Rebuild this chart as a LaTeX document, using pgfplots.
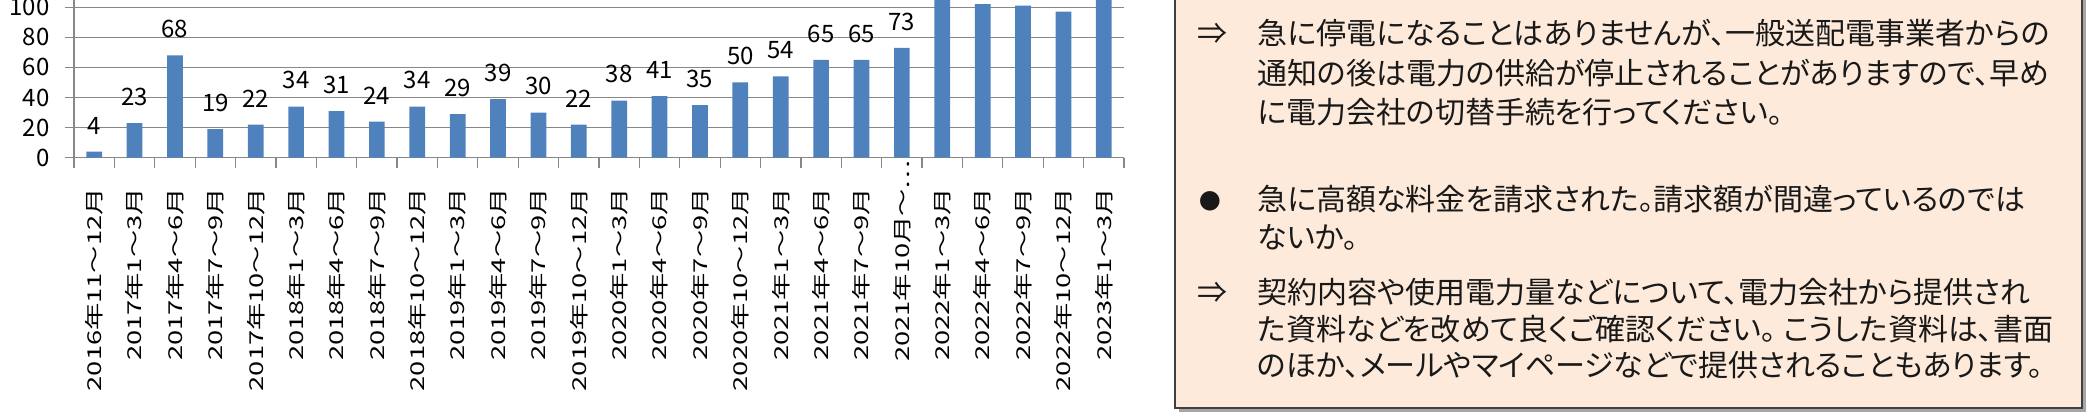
\documentclass[border=0pt]{standalone}
\usepackage{fontspec}
\setmainfont{Noto Sans CJK JP}
\newfontfamily\jp[CharacterWidth=AlternateProportional]{Noto Sans CJK JP}
\usepackage{graphicx}
\usepackage{pgfplots}
\usepackage{pgfplotstable}
\pgfplotsset{compat=1.18}
\definecolor{barblue}{HTML}{4F81BD}
\definecolor{gridgray}{HTML}{878787}
\definecolor{boxfill}{HTML}{FDEADA}
\newcommand\XL[1]{\scalebox{1}[0.7]{#1}}

\pgfplotstableread{
x y
0 4
1 23
2 68
3 19
4 22
5 34
6 31
7 24
8 34
9 29
10 39
11 30
12 22
13 38
14 41
15 35
16 50
17 54
18 65
19 65
20 73
}\labeled
\pgfplotstableread{
x y
21 120
22 102
23 101
24 97
25 118
}\tall

\begin{document}
\begin{tikzpicture}[x=1pt,y=1pt]
\path[use as bounding box] (0,0) rectangle (1044.5,208.5);
\clip (0,0) rectangle (1044.5,208.5);
\begin{axis}[
  at={(37pt,129.65pt)}, anchor=south west,
  scale only axis, width=525pt, height=78.85pt,
  xmin=-0.5, xmax=25.5, ymin=0, ymax=104.8,
  ybar, bar width=7.85pt, bar shift=0pt,
  axis lines=left,
  axis line style={draw=gridgray, line width=0.6pt, -},
  ytick={0,20,...,100},
  ymajorgrids,
  grid style={gridgray, line width=0.6pt},
  xtick={0,...,25},
  xticklabels={\XL{2016年11〜12月},\XL{2017年1〜3月},\XL{2017年4〜6月},\XL{2017年7〜9月},\XL{2017年10〜12月},
    \XL{2018年1〜3月},\XL{2018年4〜6月},\XL{2018年7〜9月},\XL{2018年10〜12月},
    \XL{2019年1〜3月},\XL{2019年4〜6月},\XL{2019年7〜9月},\XL{2019年10〜12月},
    \XL{2020年1〜3月},\XL{2020年4〜6月},\XL{2020年7〜9月},\XL{2020年10〜12月},
    \XL{2021年1〜3月},\XL{2021年4〜6月},\XL{2021年7〜9月},\XL{2021年10月〜…\hspace*{-14pt}},
    \XL{2022年1〜3月},\XL{2022年4〜6月},\XL{2022年7〜9月},\XL{2022年10〜12月},
    \XL{2023年1〜3月}},
  major x tick style={draw=none},
  minor xtick={-0.5,0.5,...,25.5},
  tick align=outside,
  major tick length=4.5pt,
  minor tick length=5pt,
  tick style={gridgray, line width=0.6pt},
  xticklabel style={rotate=90, anchor=east, inner sep=0pt, font=\fontsize{13.65}{14}\selectfont},
  yticklabel style={anchor=east, inner sep=0pt, font=\fontsize{12}{13}\selectfont},
  xticklabel shift=10.5pt,
  yticklabel shift=7.5pt,
  /pgf/number format/assume math mode=true,
]
\addplot[fill=barblue, draw=none,
  nodes near coords,
  every node near coord/.append style={font=\fontsize{12}{13}\selectfont, inner sep=0pt, yshift=8.5pt, text=black}]
  table[x=x, y=y] {\labeled};
\addplot[fill=barblue, draw=none] table[x=x, y=y] {\tall};
\end{axis}
% note box
\fill[black!35] (589.5,2.5) rectangle (1043,213);
\draw[draw=black!75, line width=0.8pt, fill=boxfill] (587.5,4.5) rectangle (1041,215);
\begin{scope}[every node/.style={anchor=base west, inner sep=0pt, font=\jp\fontsize{15}{17}\selectfont, text=black!90}]
\node at (598.5,186) {⇒};
\node at (628.5,186) {急に停電になることはありませんが、一般送配電事業者からの};
\node at (628.5,166) {通知の後は電力の供給が停止されることがありますので、早め};
\node at (628.5,146.5) {に電力会社の切替手続を行ってください。};
\node at (599.5,103.5) {\scalebox{0.72}{●}};
\node at (628.5,103) {急に高額な料金を請求された。請求額が間違っているのでは};
\node at (628.5,84) {ないか。};
\node at (598.5,56.5) {⇒};
\node at (628.5,56.5) {契約内容や使用電力量などについて、電力会社から提供され};
\node at (628.5,38) {た資料などを改めて良くご確認ください。 こうした資料は、書面};
\node at (628.5,20) {のほか、メールやマイページなどで提供されることもあります。};
\end{scope}
\end{tikzpicture}
\end{document}
